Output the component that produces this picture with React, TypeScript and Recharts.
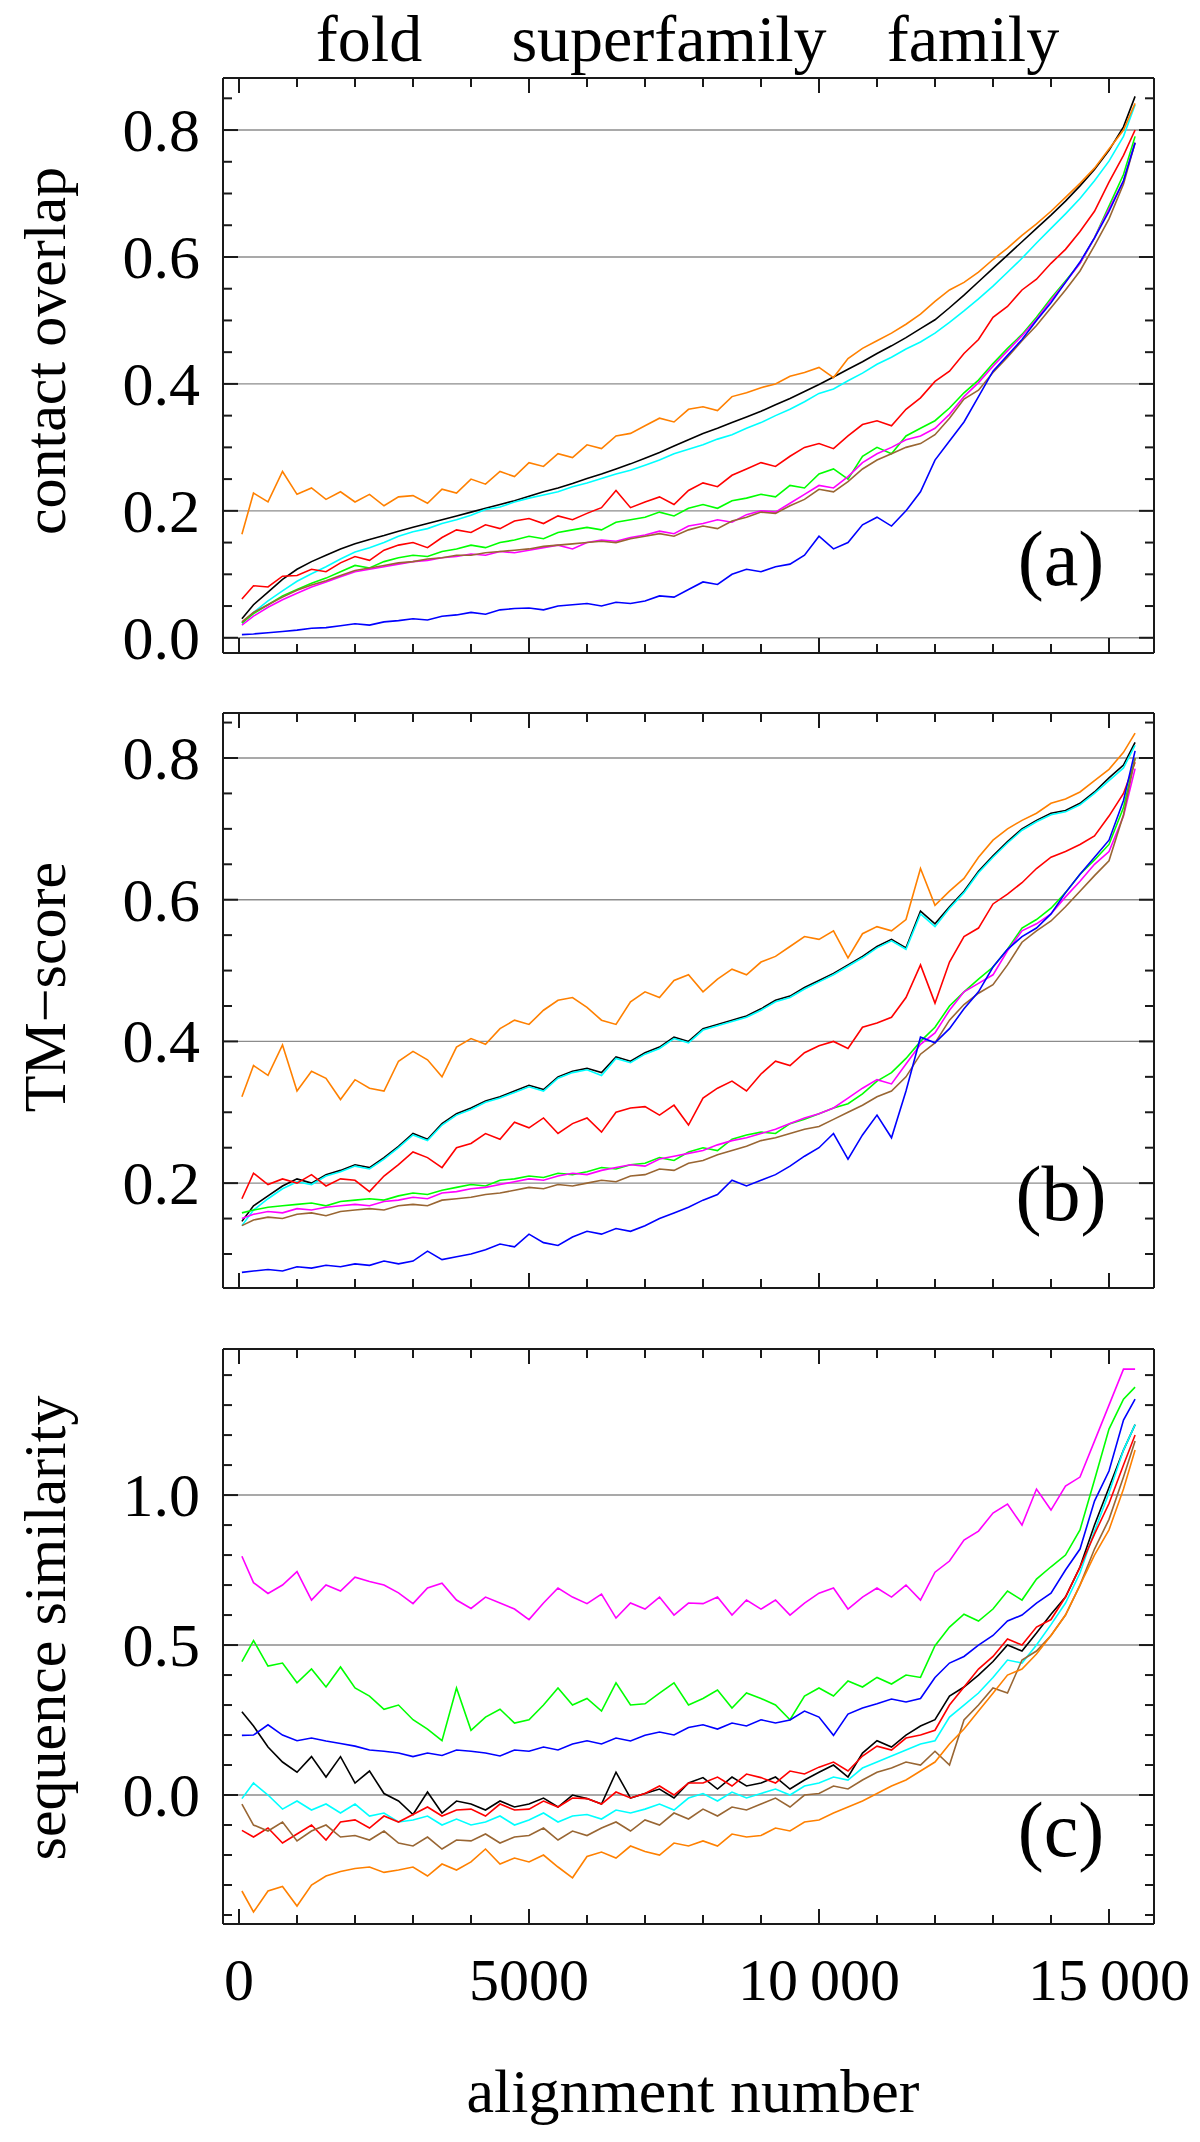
import React from "react";
import { LineChart, Line, XAxis, YAxis, ReferenceLine } from "recharts";

// shared x positions (alignment number)
const alignmentNumber = [
  50, 250, 500, 750, 1000, 1250, 1500, 1750,
  2000, 2250, 2500, 2750, 3000, 3250, 3500, 3750,
  4000, 4250, 4500, 4750, 5000, 5250, 5500, 5750,
  6000, 6250, 6500, 6750, 7000, 7250, 7500, 7750,
  8000, 8250, 8500, 8750, 9000, 9250, 9500, 9750,
  10000, 10250, 10500, 10750, 11000, 11250, 11500, 11750,
  12000, 12250, 12500, 12750, 13000, 13250, 13500, 13750,
  14000, 14250, 14500, 14750, 15000, 15250, 15450,
];

// (a) contact overlap
const contactBlack = [
  0.030, 0.052, 0.072, 0.092, 0.108, 0.120, 0.130, 0.140,
  0.148, 0.155, 0.161, 0.168, 0.174, 0.180, 0.186, 0.192,
  0.198, 0.204, 0.210, 0.216, 0.223, 0.230, 0.236, 0.243,
  0.251, 0.258, 0.266, 0.274, 0.283, 0.292, 0.302, 0.312,
  0.322, 0.330, 0.339, 0.348, 0.357, 0.367, 0.377, 0.388,
  0.399, 0.411, 0.423, 0.435, 0.448, 0.460, 0.473, 0.487,
  0.501, 0.520, 0.540, 0.561, 0.582, 0.603, 0.624, 0.645,
  0.666, 0.688, 0.712, 0.738, 0.768, 0.805, 0.853,
];
const contactCyan = [
  0.023, 0.040, 0.058, 0.074, 0.089, 0.101, 0.112, 0.124,
  0.135, 0.142, 0.150, 0.160, 0.167, 0.172, 0.180, 0.186,
  0.193, 0.202, 0.206, 0.214, 0.220, 0.225, 0.230, 0.238,
  0.244, 0.251, 0.258, 0.264, 0.272, 0.280, 0.290, 0.297,
  0.304, 0.313, 0.320, 0.330, 0.339, 0.350, 0.360, 0.372,
  0.385, 0.392, 0.405, 0.417, 0.431, 0.442, 0.455, 0.466,
  0.480, 0.497, 0.515, 0.534, 0.554, 0.576, 0.598, 0.622,
  0.645, 0.668, 0.692, 0.720, 0.751, 0.790, 0.840,
];
const contactRed = [
  0.061, 0.082, 0.080, 0.097, 0.098, 0.108, 0.104, 0.118,
  0.128, 0.122, 0.138, 0.146, 0.150, 0.142, 0.158, 0.170,
  0.166, 0.178, 0.172, 0.184, 0.188, 0.180, 0.192, 0.186,
  0.196, 0.205, 0.232, 0.205, 0.214, 0.222, 0.210, 0.232,
  0.244, 0.238, 0.256, 0.266, 0.276, 0.270, 0.286, 0.300,
  0.306, 0.298, 0.318, 0.336, 0.342, 0.334, 0.360, 0.378,
  0.404, 0.420, 0.448, 0.470, 0.505, 0.522, 0.548, 0.565,
  0.590, 0.612, 0.640, 0.672, 0.718, 0.760, 0.800,
];
const contactGreen = [
  0.023, 0.038, 0.052, 0.066, 0.076, 0.086, 0.094, 0.104,
  0.114, 0.110, 0.120, 0.126, 0.130, 0.128, 0.136, 0.140,
  0.146, 0.142, 0.150, 0.154, 0.160, 0.156, 0.166, 0.170,
  0.174, 0.170, 0.182, 0.186, 0.190, 0.198, 0.192, 0.204,
  0.210, 0.204, 0.216, 0.220, 0.226, 0.222, 0.240, 0.236,
  0.258, 0.266, 0.250, 0.286, 0.300, 0.290, 0.318, 0.330,
  0.342, 0.362, 0.386, 0.406, 0.432, 0.456, 0.478, 0.505,
  0.535, 0.562, 0.590, 0.630, 0.680, 0.730, 0.790,
];
const contactMagenta = [
  0.020, 0.034, 0.048, 0.060, 0.070, 0.080, 0.088, 0.096,
  0.104, 0.108, 0.112, 0.116, 0.120, 0.122, 0.126, 0.128,
  0.132, 0.130, 0.136, 0.134, 0.138, 0.142, 0.146, 0.140,
  0.150, 0.154, 0.152, 0.158, 0.162, 0.168, 0.164, 0.176,
  0.180, 0.186, 0.182, 0.194, 0.200, 0.198, 0.212, 0.226,
  0.240, 0.236, 0.254, 0.276, 0.290, 0.300, 0.312, 0.318,
  0.330, 0.352, 0.380, 0.402, 0.428, 0.452, 0.476, 0.502,
  0.532, 0.560, 0.590, 0.630, 0.676, 0.720, 0.780,
];
const contactBrown = [
  0.025, 0.040, 0.052, 0.064, 0.075, 0.083, 0.090, 0.098,
  0.106, 0.110, 0.114, 0.118, 0.120, 0.124, 0.126, 0.130,
  0.130, 0.134, 0.136, 0.138, 0.140, 0.144, 0.146, 0.148,
  0.150, 0.152, 0.150, 0.156, 0.160, 0.164, 0.160, 0.170,
  0.176, 0.172, 0.184, 0.190, 0.198, 0.196, 0.208, 0.218,
  0.234, 0.230, 0.246, 0.266, 0.280, 0.290, 0.300, 0.306,
  0.320, 0.346, 0.376, 0.390, 0.418, 0.442, 0.468, 0.492,
  0.520, 0.548, 0.578, 0.618, 0.660, 0.715, 0.780,
];
const contactBlue = [
  0.005, 0.006, 0.008, 0.010, 0.012, 0.015, 0.016, 0.019,
  0.022, 0.020, 0.025, 0.027, 0.030, 0.028, 0.034, 0.036,
  0.040, 0.037, 0.044, 0.046, 0.047, 0.044, 0.050, 0.052,
  0.054, 0.050, 0.056, 0.054, 0.058, 0.066, 0.064, 0.076,
  0.088, 0.084, 0.100, 0.108, 0.104, 0.112, 0.116, 0.130,
  0.160, 0.140, 0.150, 0.178, 0.190, 0.176, 0.200, 0.230,
  0.280, 0.310, 0.340, 0.380, 0.420, 0.445, 0.470, 0.500,
  0.528, 0.560, 0.592, 0.630, 0.672, 0.720, 0.780,
];
const contactOrange = [
  0.163, 0.228, 0.214, 0.262, 0.226, 0.236, 0.218, 0.230,
  0.214, 0.226, 0.208, 0.222, 0.224, 0.212, 0.234, 0.228,
  0.250, 0.242, 0.262, 0.254, 0.276, 0.270, 0.290, 0.284,
  0.304, 0.298, 0.318, 0.322, 0.334, 0.346, 0.340, 0.360,
  0.364, 0.358, 0.380, 0.386, 0.394, 0.400, 0.412, 0.418,
  0.426, 0.410, 0.440, 0.456, 0.468, 0.480, 0.494, 0.510,
  0.530, 0.548, 0.560, 0.576, 0.596, 0.614, 0.634, 0.652,
  0.672, 0.694, 0.716, 0.740, 0.770, 0.800, 0.842,
];

// (b) TM-score
const tmBlack = [
  0.146, 0.168, 0.182, 0.196, 0.206, 0.200, 0.212, 0.218,
  0.226, 0.222, 0.236, 0.252, 0.270, 0.262, 0.284, 0.298,
  0.306, 0.316, 0.322, 0.330, 0.338, 0.332, 0.350, 0.358,
  0.362, 0.356, 0.378, 0.372, 0.384, 0.392, 0.406, 0.400,
  0.418, 0.424, 0.430, 0.436, 0.446, 0.458, 0.464, 0.476,
  0.486, 0.496, 0.508, 0.520, 0.534, 0.544, 0.532, 0.584,
  0.566, 0.590, 0.612, 0.640, 0.662, 0.682, 0.700, 0.712,
  0.722, 0.726, 0.736, 0.752, 0.772, 0.790, 0.822,
];
const tmCyan = [
  0.140, 0.162, 0.178, 0.192, 0.202, 0.198, 0.210, 0.216,
  0.224, 0.220, 0.234, 0.250, 0.268, 0.260, 0.282, 0.296,
  0.304, 0.314, 0.320, 0.328, 0.336, 0.330, 0.348, 0.356,
  0.360, 0.352, 0.376, 0.370, 0.382, 0.390, 0.404, 0.398,
  0.416, 0.422, 0.428, 0.434, 0.444, 0.456, 0.462, 0.474,
  0.484, 0.494, 0.506, 0.518, 0.532, 0.542, 0.530, 0.580,
  0.562, 0.588, 0.610, 0.638, 0.660, 0.680, 0.698, 0.710,
  0.720, 0.724, 0.734, 0.750, 0.768, 0.786, 0.818,
];
const tmRed = [
  0.178, 0.214, 0.198, 0.206, 0.200, 0.212, 0.196, 0.206,
  0.204, 0.188, 0.210, 0.226, 0.244, 0.236, 0.222, 0.250,
  0.256, 0.270, 0.262, 0.286, 0.278, 0.292, 0.270, 0.284,
  0.292, 0.272, 0.300, 0.306, 0.308, 0.296, 0.310, 0.282,
  0.320, 0.334, 0.344, 0.330, 0.354, 0.372, 0.366, 0.384,
  0.394, 0.400, 0.390, 0.420, 0.426, 0.434, 0.462, 0.508,
  0.454, 0.512, 0.548, 0.560, 0.594, 0.608, 0.624, 0.644,
  0.660, 0.668, 0.678, 0.690, 0.718, 0.750, 0.794,
];
const tmGreen = [
  0.158, 0.162, 0.166, 0.168, 0.170, 0.172, 0.168, 0.174,
  0.176, 0.178, 0.176, 0.182, 0.186, 0.184, 0.190, 0.194,
  0.198, 0.196, 0.204, 0.206, 0.210, 0.208, 0.214, 0.212,
  0.216, 0.222, 0.220, 0.226, 0.228, 0.236, 0.232, 0.244,
  0.250, 0.246, 0.262, 0.268, 0.272, 0.270, 0.284, 0.290,
  0.298, 0.306, 0.312, 0.326, 0.344, 0.356, 0.376, 0.400,
  0.420, 0.450, 0.470, 0.488, 0.505, 0.530, 0.560, 0.572,
  0.588, 0.610, 0.636, 0.656, 0.678, 0.730, 0.800,
];
const tmMagenta = [
  0.150, 0.156, 0.160, 0.158, 0.164, 0.162, 0.166, 0.168,
  0.170, 0.168, 0.174, 0.176, 0.180, 0.178, 0.186, 0.188,
  0.192, 0.194, 0.198, 0.202, 0.206, 0.204, 0.210, 0.214,
  0.212, 0.218, 0.222, 0.226, 0.224, 0.234, 0.238, 0.242,
  0.246, 0.254, 0.260, 0.264, 0.270, 0.276, 0.284, 0.292,
  0.298, 0.306, 0.320, 0.334, 0.346, 0.340, 0.368, 0.396,
  0.412, 0.444, 0.470, 0.482, 0.494, 0.528, 0.556, 0.566,
  0.580, 0.604, 0.626, 0.650, 0.668, 0.718, 0.785,
];
const tmBrown = [
  0.140, 0.148, 0.152, 0.150, 0.156, 0.158, 0.154, 0.160,
  0.162, 0.164, 0.162, 0.168, 0.170, 0.168, 0.176, 0.178,
  0.180, 0.184, 0.186, 0.190, 0.194, 0.192, 0.198, 0.196,
  0.200, 0.204, 0.202, 0.210, 0.212, 0.220, 0.218, 0.228,
  0.232, 0.240, 0.246, 0.252, 0.260, 0.264, 0.270, 0.276,
  0.280, 0.290, 0.300, 0.310, 0.322, 0.330, 0.350, 0.382,
  0.398, 0.430, 0.452, 0.468, 0.480, 0.508, 0.540, 0.556,
  0.570, 0.590, 0.612, 0.634, 0.655, 0.720, 0.800,
];
const tmBlue = [
  0.074, 0.076, 0.078, 0.076, 0.082, 0.080, 0.084, 0.082,
  0.086, 0.084, 0.090, 0.086, 0.090, 0.104, 0.092, 0.096,
  0.100, 0.106, 0.114, 0.110, 0.128, 0.116, 0.112, 0.124,
  0.132, 0.128, 0.136, 0.132, 0.140, 0.150, 0.158, 0.166,
  0.176, 0.184, 0.204, 0.196, 0.204, 0.212, 0.224, 0.238,
  0.250, 0.270, 0.234, 0.268, 0.296, 0.264, 0.330, 0.406,
  0.398, 0.418, 0.446, 0.470, 0.505, 0.530, 0.548, 0.560,
  0.580, 0.610, 0.636, 0.660, 0.684, 0.740, 0.810,
];
const tmOrange = [
  0.322, 0.366, 0.352, 0.395, 0.330, 0.358, 0.348, 0.318,
  0.346, 0.334, 0.330, 0.372, 0.386, 0.374, 0.350, 0.392,
  0.404, 0.396, 0.418, 0.430, 0.424, 0.444, 0.458, 0.462,
  0.448, 0.430, 0.424, 0.456, 0.470, 0.462, 0.486, 0.494,
  0.470, 0.488, 0.502, 0.494, 0.512, 0.520, 0.534, 0.548,
  0.544, 0.556, 0.518, 0.552, 0.562, 0.556, 0.572, 0.644,
  0.592, 0.612, 0.630, 0.660, 0.684, 0.700, 0.712, 0.722,
  0.736, 0.742, 0.752, 0.768, 0.784, 0.808, 0.835,
];

// (c) sequence similarity
const seqBlack = [
  0.278, 0.230, 0.160, 0.110, 0.076, 0.128, 0.060, 0.128,
  0.040, 0.080, 0.005, -0.020, -0.065, 0.010, -0.060, -0.020,
  -0.030, -0.050, -0.020, -0.040, -0.030, -0.010, -0.040, 0.000,
  -0.012, -0.030, 0.076, -0.010, 0.005, 0.020, -0.010, 0.040,
  0.058, 0.020, 0.060, 0.030, 0.040, 0.060, 0.020, 0.050,
  0.076, 0.100, 0.060, 0.140, 0.181, 0.160, 0.200, 0.230,
  0.251, 0.330, 0.360, 0.400, 0.445, 0.500, 0.480, 0.540,
  0.603, 0.660, 0.760, 0.900, 1.025, 1.150, 1.235,
];
const seqCyan = [
  -0.012, 0.040, 0.000, -0.047, -0.020, -0.050, -0.030, -0.060,
  -0.030, -0.070, -0.060, -0.090, -0.083, -0.070, -0.100, -0.080,
  -0.100, -0.090, -0.070, -0.100, -0.083, -0.060, -0.090, -0.070,
  -0.065, -0.080, -0.050, -0.060, -0.047, -0.030, -0.050, -0.010,
  0.005, -0.020, 0.010, -0.010, 0.005, 0.020, 0.000, 0.030,
  0.040, 0.060, 0.050, 0.090, 0.110, 0.130, 0.150, 0.170,
  0.181, 0.260, 0.300, 0.340, 0.392, 0.450, 0.440, 0.500,
  0.568, 0.640, 0.740, 0.880, 1.007, 1.150, 1.235,
];
const seqRed = [
  -0.118, -0.140, -0.110, -0.160, -0.130, -0.100, -0.150, -0.090,
  -0.083, -0.110, -0.070, -0.090, -0.065, -0.040, -0.070, -0.050,
  -0.047, -0.070, -0.030, -0.050, -0.047, -0.020, -0.040, -0.010,
  -0.012, -0.030, 0.010, -0.010, 0.005, 0.030, 0.000, 0.040,
  0.040, 0.060, 0.030, 0.070, 0.058, 0.040, 0.080, 0.070,
  0.093, 0.110, 0.080, 0.130, 0.163, 0.150, 0.190, 0.200,
  0.216, 0.300, 0.360, 0.420, 0.462, 0.520, 0.500, 0.560,
  0.585, 0.660, 0.760, 0.870, 0.972, 1.100, 1.200,
];
const seqGreen = [
  0.445, 0.515, 0.430, 0.440, 0.374, 0.420, 0.360, 0.427,
  0.357, 0.330, 0.286, 0.300, 0.251, 0.220, 0.181, 0.357,
  0.216, 0.260, 0.286, 0.240, 0.251, 0.300, 0.357, 0.300,
  0.322, 0.280, 0.374, 0.300, 0.304, 0.340, 0.374, 0.300,
  0.322, 0.350, 0.290, 0.340, 0.322, 0.300, 0.251, 0.330,
  0.357, 0.330, 0.380, 0.360, 0.392, 0.370, 0.400, 0.392,
  0.498, 0.560, 0.603, 0.580, 0.620, 0.680, 0.650, 0.720,
  0.761, 0.800, 0.884, 1.050, 1.220, 1.320, 1.360,
];
const seqMagenta = [
  0.796, 0.708, 0.672, 0.700, 0.745, 0.650, 0.700, 0.680,
  0.726, 0.712, 0.700, 0.674, 0.638, 0.690, 0.706, 0.650,
  0.622, 0.660, 0.640, 0.620, 0.585, 0.640, 0.690, 0.660,
  0.638, 0.670, 0.590, 0.640, 0.620, 0.660, 0.600, 0.640,
  0.638, 0.660, 0.600, 0.650, 0.620, 0.650, 0.600, 0.640,
  0.673, 0.690, 0.620, 0.660, 0.690, 0.660, 0.700, 0.650,
  0.743, 0.780, 0.850, 0.880, 0.940, 0.970, 0.900, 1.020,
  0.950, 1.030, 1.060, 1.180, 1.300, 1.420, 1.420,
];
const seqBrown = [
  -0.030, -0.100, -0.120, -0.090, -0.153, -0.120, -0.100, -0.140,
  -0.135, -0.150, -0.120, -0.160, -0.170, -0.140, -0.180, -0.150,
  -0.153, -0.130, -0.160, -0.140, -0.135, -0.110, -0.150, -0.120,
  -0.135, -0.110, -0.090, -0.120, -0.083, -0.100, -0.060, -0.080,
  -0.047, -0.070, -0.040, -0.050, -0.030, -0.010, -0.040, 0.000,
  0.005, 0.030, 0.020, 0.050, 0.076, 0.090, 0.110, 0.100,
  0.146, 0.100, 0.250, 0.300, 0.357, 0.340, 0.450, 0.480,
  0.532, 0.600, 0.700, 0.820, 0.919, 1.060, 1.180,
];
const seqBlue = [
  0.199, 0.200, 0.234, 0.200, 0.181, 0.190, 0.180, 0.172,
  0.163, 0.150, 0.146, 0.140, 0.128, 0.140, 0.132, 0.150,
  0.146, 0.140, 0.130, 0.150, 0.146, 0.160, 0.150, 0.170,
  0.181, 0.170, 0.190, 0.180, 0.199, 0.210, 0.200, 0.225,
  0.234, 0.220, 0.240, 0.230, 0.251, 0.240, 0.250, 0.280,
  0.260, 0.199, 0.270, 0.290, 0.304, 0.320, 0.310, 0.322,
  0.392, 0.440, 0.462, 0.500, 0.532, 0.580, 0.600, 0.640,
  0.673, 0.750, 0.820, 0.980, 1.080, 1.250, 1.320,
];
const seqOrange = [
  -0.320, -0.390, -0.320, -0.305, -0.370, -0.300, -0.270, -0.255,
  -0.245, -0.240, -0.258, -0.250, -0.240, -0.270, -0.230, -0.250,
  -0.223, -0.180, -0.230, -0.210, -0.223, -0.200, -0.240, -0.276,
  -0.205, -0.190, -0.210, -0.170, -0.188, -0.200, -0.160, -0.170,
  -0.153, -0.170, -0.130, -0.140, -0.135, -0.110, -0.120, -0.090,
  -0.083, -0.060, -0.040, -0.020, 0.005, 0.030, 0.050, 0.080,
  0.110, 0.170, 0.220, 0.280, 0.339, 0.400, 0.420, 0.470,
  0.532, 0.600, 0.700, 0.800, 0.884, 1.020, 1.150,
];

// ticks
const xTicks = [0, 1000, 2000, 3000, 4000, 5000, 6000, 7000, 8000, 9000, 10000, 11000, 12000, 13000, 14000, 15000];
const xMajor = [0, 5000, 10000, 15000];
const xLabels = ["0", "5000", "10\u2009000", "15\u2009000"];

const contactTicks = [0, 0.05, 0.1, 0.15, 0.2, 0.25, 0.3, 0.35, 0.4, 0.45, 0.5, 0.55, 0.6, 0.65, 0.7, 0.75, 0.8, 0.85];
const contactMajor = [0, 0.2, 0.4, 0.6, 0.8];
const contactLabels = ["0.0", "0.2", "0.4", "0.6", "0.8"];

const tmTicks = [0.1, 0.15, 0.2, 0.25, 0.3, 0.35, 0.4, 0.45, 0.5, 0.55, 0.6, 0.65, 0.7, 0.75, 0.8, 0.85];
const tmMajor = [0.2, 0.4, 0.6, 0.8];
const tmLabels = ["0.2", "0.4", "0.6", "0.8"];

const seqTicks = [-0.4, -0.3, -0.2, -0.1, 0, 0.1, 0.2, 0.3, 0.4, 0.5, 0.6, 0.7, 0.8, 0.9, 1.0, 1.1, 1.2, 1.3, 1.4];
const seqMajor = [0, 0.5, 1.0];
const seqLabels = ["0.0", "0.5", "1.0"];

const topLabels = ["fold", "superfamily", "family"];

const COLORS: Record<string, string> = {
  black: "#000000",
  cyan: "#00ffff",
  red: "#ff0000",
  green: "#00ff00",
  magenta: "#ff00ff",
  brown: "#996633",
  blue: "#0000ff",
  orange: "#ff8000",
};
const ORDER = ["black", "cyan", "red", "green", "magenta", "brown", "blue", "orange"];

const SERIF = "Liberation Serif, DejaVu Serif, Times New Roman, serif";
const INK = "#1a1a1a";
const X_DOMAIN: [number, number] = [-276, 15776];

function buildRows(series: Record<string, number[]>) {
  return alignmentNumber.map((x, i) => {
    const row: Record<string, number> = { x };
    for (const k of Object.keys(series)) row[k] = series[k][i];
    return row;
  });
}

const contactRows = buildRows({
  black: contactBlack, cyan: contactCyan, red: contactRed, green: contactGreen,
  magenta: contactMagenta, brown: contactBrown, blue: contactBlue, orange: contactOrange,
});
const tmRows = buildRows({
  black: tmBlack, cyan: tmCyan, red: tmRed, green: tmGreen,
  magenta: tmMagenta, brown: tmBrown, blue: tmBlue, orange: tmOrange,
});
const seqRows = buildRows({
  black: seqBlack, cyan: seqCyan, red: seqRed, green: seqGreen,
  magenta: seqMagenta, brown: seqBrown, blue: seqBlue, orange: seqOrange,
});

const findMajor = (majors: number[], v: number) =>
  majors.findIndex((m) => Math.abs(m - v) < 1e-6);

const textStyle = (size: number): React.CSSProperties => ({
  fontFamily: SERIF,
  fontSize: size,
  fill: "#000",
});

// inward tick marks, labels outside
function yTick(side: "left" | "right", majors: number[], labels: string[] | null) {
  return (props: any) => {
    const { x, y, payload } = props;
    const idx = findMajor(majors, payload.value);
    const len = idx >= 0 ? 15 : 9;
    const dx = side === "left" ? len : -len;
    return (
      <g>
        <line x1={x} y1={y} x2={x + dx} y2={y} stroke={INK} strokeWidth={2} />
        {labels && idx >= 0 && (
          <text x={x - 23} y={y + 21} textAnchor="end" style={textStyle(62)}>
            {labels[idx]}
          </text>
        )}
      </g>
    );
  };
}

function xTick(side: "top" | "bottom", labels: string[] | null) {
  return (props: any) => {
    const { x, y, payload } = props;
    const idx = findMajor(xMajor, payload.value);
    const len = idx >= 0 ? 15 : 9;
    const dy = side === "top" ? len : -len;
    return (
      <g>
        <line x1={x} y1={y} x2={x} y2={y + dy} stroke={INK} strokeWidth={2} />
        {labels && idx >= 0 && (
          <text x={x} y={y + 76} textAnchor="middle" style={textStyle(60)}>
            {labels[idx]}
          </text>
        )}
      </g>
    );
  };
}

type PanelProps = {
  top: number;
  height: number;
  margin: { top: number; right: number; bottom: number; left: number };
  rows: Record<string, number>[];
  yDomain: [number, number];
  yTicks: number[];
  yMajor: number[];
  yLabels: string[];
  showXLabels: boolean;
};

function Panel({ top, height, margin, rows, yDomain, yTicks, yMajor, yLabels, showXLabels }: PanelProps) {
  const frame = { stroke: INK, strokeWidth: 2 };
  return (
    <div style={{ position: "absolute", left: 0, top, width: 1200, height }}>
      <LineChart width={1200} height={height} data={rows} margin={margin}>
        <XAxis
          dataKey="x"
          type="number"
          domain={X_DOMAIN}
          allowDataOverflow
          ticks={xTicks}
          interval={0}
          height={1}
          tickSize={0}
          tickMargin={0}
          tickLine={false}
          axisLine={frame}
          tick={xTick("bottom", showXLabels ? xLabels : null)}
        />
        <XAxis
          xAxisId="top"
          orientation="top"
          dataKey="x"
          type="number"
          domain={X_DOMAIN}
          allowDataOverflow
          ticks={xTicks}
          interval={0}
          height={1}
          tickSize={0}
          tickMargin={0}
          tickLine={false}
          axisLine={frame}
          tick={xTick("top", null)}
        />
        <YAxis
          type="number"
          domain={yDomain}
          allowDataOverflow
          ticks={yTicks}
          interval={0}
          width={1}
          tickSize={0}
          tickMargin={0}
          tickLine={false}
          axisLine={frame}
          tick={yTick("left", yMajor, yLabels)}
        />
        <YAxis
          yAxisId="right"
          orientation="right"
          type="number"
          domain={yDomain}
          allowDataOverflow
          ticks={yTicks}
          interval={0}
          width={1}
          tickSize={0}
          tickMargin={0}
          tickLine={false}
          axisLine={frame}
          tick={yTick("right", yMajor, null)}
        />
        {yMajor.map((v) => (
          <ReferenceLine key={v} y={v} stroke="#8c8c8c" strokeWidth={1.4} />
        ))}
        {ORDER.map((k) => (
          <Line
            key={k}
            type="linear"
            dataKey={k}
            stroke={COLORS[k]}
            strokeWidth={1.6}
            dot={false}
            activeDot={false}
            isAnimationActive={false}
          />
        ))}
      </LineChart>
    </div>
  );
}

export default function App() {
  return (
    <div style={{ position: "absolute", left: 0, top: 0, width: 1200, height: 2142, background: "#fff" }}>
      <Panel
        top={0}
        height={700}
        margin={{ top: 77, right: 45, bottom: 46, left: 222 }}
        rows={contactRows}
        yDomain={[-0.024, 0.882]}
        yTicks={contactTicks}
        yMajor={contactMajor}
        yLabels={contactLabels}
        showXLabels={false}
      />
      <Panel
        top={680}
        height={660}
        margin={{ top: 32, right: 45, bottom: 51, left: 222 }}
        rows={tmRows}
        yDomain={[0.052, 0.8635]}
        yTicks={tmTicks}
        yMajor={tmMajor}
        yLabels={tmLabels}
        showXLabels={false}
      />
      <Panel
        top={1320}
        height={822}
        margin={{ top: 28, right: 45, bottom: 217, left: 222 }}
        rows={seqRows}
        yDomain={[-0.43, 1.487]}
        yTicks={seqTicks}
        yMajor={seqMajor}
        yLabels={seqLabels}
        showXLabels={true}
      />
      <svg
        width={1200}
        height={2142}
        style={{ position: "absolute", left: 0, top: 0, pointerEvents: "none" }}
      >
        <text x={369} y={61} textAnchor="middle" style={textStyle(66)}>{topLabels[0]}</text>
        <text x={669} y={61} textAnchor="middle" style={textStyle(66)}>{topLabels[1]}</text>
        <text x={973} y={61} textAnchor="middle" style={textStyle(66)}>{topLabels[2]}</text>
        <text x={65} y={351} transform="rotate(-90 65 351)" textAnchor="middle" style={textStyle(60)}>
          contact overlap
        </text>
        <text x={65} y={987} transform="rotate(-90 65 987)" textAnchor="middle" style={textStyle(60)}>
          TM−score
        </text>
        <text x={65} y={1628} transform="rotate(-90 65 1628)" textAnchor="middle" style={textStyle(60)}>
          sequence similarity
        </text>
        <text x={693} y={2112} textAnchor="middle" style={textStyle(62)}>alignment number</text>
        <text x={1061} y={585} textAnchor="middle" style={textStyle(78)}>(a)</text>
        <text x={1061} y={1220} textAnchor="middle" style={textStyle(78)}>(b)</text>
        <text x={1061} y={1856} textAnchor="middle" style={textStyle(78)}>(c)</text>
      </svg>
    </div>
  );
}
